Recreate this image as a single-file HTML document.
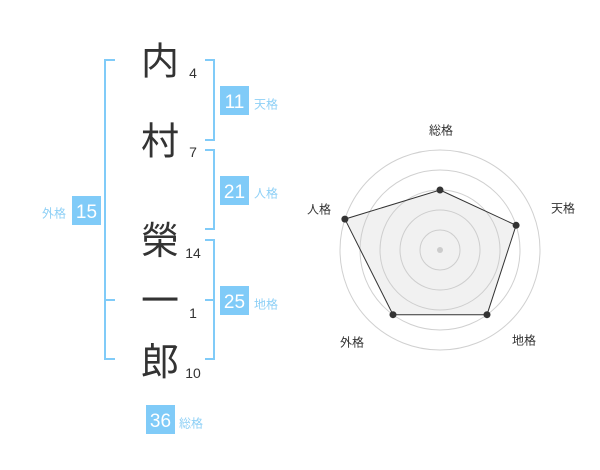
<!DOCTYPE html>
<html><head><meta charset="utf-8"><style>
html,body{margin:0;padding:0;background:#fff;}
svg{display:block;}
.k{font-family:"Liberation Sans","Noto Sans CJK JP",sans-serif;}
</style></head><body>
<svg width="600" height="470" viewBox="0 0 600 470" xmlns="http://www.w3.org/2000/svg" class="k">
<rect width="600" height="470" fill="#fff"/>
<!-- brackets -->
<g fill="none" stroke="#80cbf8" stroke-width="2">
<path d="M115,60 H105 V359 H115"/>
<path d="M105,300 H115"/>
<path d="M205,60 H214 V140 H205"/>
<path d="M205,150 H214 V229 H205"/>
<path d="M205,240 H214 V359 H205"/>
<path d="M205,300 H214"/>
</g>
<!-- kanji -->
<g font-family="'Liberation Sans','Noto Sans CJK JP',sans-serif" font-size="38" fill="#333" text-anchor="middle">
<text x="160" y="74.5">内</text>
<text x="160" y="154.5">村</text>
<text x="160" y="254">榮</text>
<text x="160" y="314">一</text>
<text x="160" y="375">郎</text>
</g>
<!-- stroke counts -->
<g font-family="'Liberation Sans',sans-serif" font-size="14" fill="#333" text-anchor="middle">
<text x="193" y="78">4</text>
<text x="193" y="157">7</text>
<text x="193" y="258">14</text>
<text x="193" y="318">1</text>
<text x="193" y="378">10</text>
</g>
<!-- boxes -->
<g fill="#80cbf8">
<rect x="220" y="86" width="29" height="29"/>
<rect x="220" y="176" width="29" height="29"/>
<rect x="220" y="286" width="29" height="29"/>
<rect x="146" y="405" width="29" height="29"/>
<rect x="72" y="196" width="29" height="29"/>
</g>
<g font-family="'Liberation Sans',sans-serif" font-size="19" fill="#fff" text-anchor="middle">
<text x="234.5" y="108">11</text>
<text x="234.5" y="198">21</text>
<text x="234.5" y="308">25</text>
<text x="160.5" y="427">36</text>
<text x="86.5" y="218">15</text>
</g>
<g font-family="'Liberation Sans','Noto Sans CJK JP',sans-serif" font-size="12" fill="#8ed0f6">
<text x="254" y="108.5">天格</text>
<text x="254" y="197.5">人格</text>
<text x="254" y="308.5">地格</text>
<text x="179" y="427.5">総格</text>
<text x="42" y="217.5">外格</text>
</g>
<!-- radar -->
<g fill="none" stroke="#d0d0d0" stroke-width="1">
<circle cx="440" cy="250" r="20"/>
<circle cx="440" cy="250" r="40"/>
<circle cx="440" cy="250" r="60"/>
<circle cx="440" cy="250" r="80"/>
<circle cx="440" cy="250" r="100"/>
</g>
<polygon points="440,190 516.1,225.3 487,314.7 393,314.7 344.9,219.1" fill="rgba(200,200,200,0.25)" stroke="#333" stroke-width="1"/>
<g fill="#333">
<circle cx="440" cy="190" r="3.5"/>
<circle cx="516.1" cy="225.3" r="3.5"/>
<circle cx="487" cy="314.7" r="3.5"/>
<circle cx="393" cy="314.7" r="3.5"/>
<circle cx="344.9" cy="219.1" r="3.5"/>
</g>
<circle cx="440" cy="250" r="3" fill="#ccc"/>
<g font-family="'Liberation Sans','Noto Sans CJK JP',sans-serif" font-size="12" fill="#333" text-anchor="middle">
<text x="441" y="134.5">総格</text>
<text x="563" y="212.5">天格</text>
<text x="524" y="344.5">地格</text>
<text x="352" y="346.5">外格</text>
<text x="319" y="213.5">人格</text>
</g>
</svg>
</body></html>
